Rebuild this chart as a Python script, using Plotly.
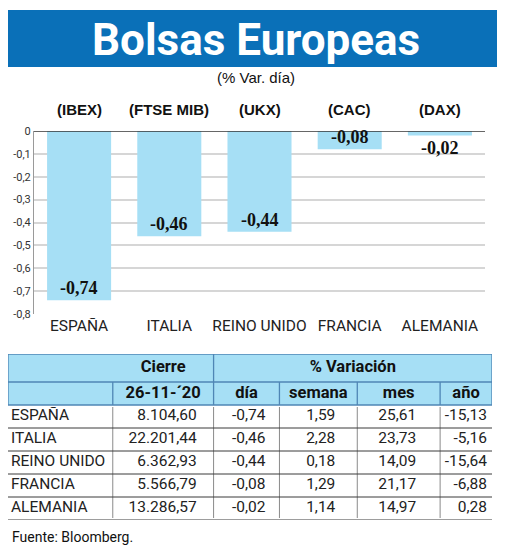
import plotly.graph_objects as go

# Datos
paises = ["ESPAÑA", "ITALIA", "REINO UNIDO", "FRANCIA", "ALEMANIA"]
indices = ["(IBEX)", "(FTSE MIB)", "(UKX)", "(CAC)", "(DAX)"]
cierre = [8104.60, 22201.44, 6362.93, 5566.79, 13286.57]
var_dia = [-0.74, -0.46, -0.44, -0.08, -0.02]
var_semana = [1.59, 2.28, 0.18, 1.29, 1.14]
var_mes = [25.61, 23.73, 14.09, 21.17, 14.97]
var_anio = [-15.13, -5.16, -15.64, -6.88, 0.28]
y_ticks = [0, -0.1, -0.2, -0.3, -0.4, -0.5, -0.6, -0.7, -0.8]
y_tick_labels = ["0", "-0,1", "-0,2", "-0,3", "-0,4", "-0,5", "-0,6", "-0,7", "-0,8"]
fecha_cierre = "26-11-´20"
cab_columnas = ["día", "semana", "mes", "año"]

# la página deja 8px de margen del navegador: la figura ocupa el resto de la ventana
OFF = 8
W, H = 520 - OFF, 549 - OFF
AZUL = "#0A70B8"
CELESTE = "#A6DFF5"
NARROW = "Roboto, Liberation Sans, sans-serif"
SANS = "Liberation Sans, Arial, sans-serif"
SERIF = "Liberation Serif, Times New Roman, serif"


def es(v):
    # formato numérico español: 13.286,57
    s = f"{v:,.2f}"
    return s.replace(",", "#").replace(".", ",").replace("#", ".")


def px_x(p):
    return max(p - OFF, 0) / W


def px_y(p):
    return 1 - max(p - OFF, 0) / H


fig = go.Figure()

# Gráfico de barras
fig.add_trace(go.Bar(
    x=paises, y=var_dia, width=0.71,
    marker=dict(color=CELESTE, line=dict(width=0)),
    hoverinfo="x+y", showlegend=False,
))

for p, v in zip(paises, var_dia):
    fig.add_annotation(
        x=p, y=v, xref="x", yref="y", text=f"{v:.2f}".replace(".", ","),
        showarrow=False, yanchor="top" if abs(v) < 0.05 else "bottom",
        font=dict(family=SERIF, size=18, color="#111", weight="bold"),
    )

for p, idx in zip(paises, indices):
    fig.add_annotation(
        x=p, y=px_y(110), xref="x", yref="paper", text=idx, yanchor="middle",
        showarrow=False, font=dict(family=SANS, size=15, color="#111", weight="bold"),
    )

# Tabla (ejes propios)
col_w = [105, 101, 66, 78, 83, 52]
edges = [0]
for w in col_w:
    edges.append(edges[-1] + w)
row_h = [28, 23, 23, 23, 23, 23, 23]
rows = [0]
for h in row_h:
    rows.append(rows[-1] + h)
mid = [(rows[i] + rows[i + 1]) / 2 for i in range(len(row_h))]
pads = [17, 14, 22, 24, 5]

tabla_ejes = dict(xaxis="x2", yaxis="y2", mode="text", hoverinfo="skip", showlegend=False)

# cabecera
fig.add_trace(go.Scatter(
    x=[(edges[1] + edges[2]) / 2, (edges[2] + edges[6]) / 2],
    y=[mid[0], mid[0]], text=["Cierre", "% Variación"],
    textposition="middle center",
    textfont=dict(family=NARROW, size=16.5, color="#111", weight="bold"),
    **tabla_ejes,
))
fig.add_trace(go.Scatter(
    x=[(edges[i] + edges[i + 1]) / 2 for i in range(1, 6)],
    y=[mid[1]] * 5, text=[fecha_cierre] + cab_columnas,
    textposition="middle center",
    textfont=dict(family=NARROW, size=16.5, color="#111", weight="bold"),
    **tabla_ejes,
))

# cuerpo
fig.add_trace(go.Scatter(
    x=[3] * len(paises), y=mid[2:], text=paises,
    textposition="middle right", textfont=dict(family=NARROW, size=15.5, color="#222"),
    **tabla_ejes,
))
for c, serie in enumerate([cierre, var_dia, var_semana, var_mes, var_anio]):
    fig.add_trace(go.Scatter(
        x=[edges[c + 2] - pads[c]] * len(serie), y=mid[2:],
        text=[es(v) for v in serie],
        textposition="middle left", textfont=dict(family=NARROW, size=15.5, color="#222"),
        **tabla_ejes,
    ))

shapes = []
# barra del título
shapes.append(dict(type="rect", xref="paper", yref="paper", x0=px_x(5), x1=px_x(497),
                   y0=px_y(67), y1=px_y(10), fillcolor=AZUL, line=dict(width=0), layer="below"))
# línea del cero
shapes.append(dict(type="line", xref="paper", yref="y", x0=px_x(34), x1=px_x(485),
                   y0=0, y1=0, line=dict(color="#333", width=1.5)))
# cabecera de la tabla
borde = dict(color="#4F86B5", width=1.3)
shapes.append(dict(type="rect", xref="x2", yref="y2", x0=0, x1=edges[-1], y0=0, y1=rows[2],
                   fillcolor=CELESTE, line=borde, layer="below"))
shapes.append(dict(type="line", xref="x2", yref="y2", x0=0, x1=edges[-1], y0=rows[1], y1=rows[1], line=borde))
shapes.append(dict(type="line", xref="x2", yref="y2", x0=edges[2], x1=edges[2], y0=0, y1=rows[2], line=borde))
for e in [edges[1], edges[3], edges[4], edges[5]]:
    shapes.append(dict(type="line", xref="x2", yref="y2", x0=e, x1=e, y0=rows[1], y1=rows[2], line=borde))
# separadores del cuerpo
for e in edges[1:6]:
    shapes.append(dict(type="line", xref="x2", yref="y2", x0=e, x1=e, y0=rows[2] + 2, y1=rows[-1] - 2,
                       line=dict(color="#8A8A8A", width=1)))
for r in rows[3:]:
    shapes.append(dict(type="line", xref="x2", yref="y2", x0=0, x1=edges[-1], y0=r, y1=r,
                       line=dict(color="#3A3A3A", width=1)))

fig.update_layout(
    width=W, height=H, autosize=False,
    margin=dict(l=0, r=0, t=0, b=0, pad=0),
    paper_bgcolor="white", plot_bgcolor="white",
    shapes=shapes,
    xaxis=dict(
        domain=[px_x(34), px_x(485)], type="category", showgrid=False, zeroline=False,
        showline=False, ticks="", tickangle=0, automargin=False,
        tickfont=dict(family=NARROW, size=15.5, color="#222"), fixedrange=True,
    ),
    yaxis=dict(
        domain=[px_y(314), px_y(131)], range=[-0.8, 0], tickvals=y_ticks, ticktext=y_tick_labels,
        showgrid=True, gridcolor="#D6D6D6", gridwidth=1.5, zeroline=False,
        showline=True, linecolor="#9A9A9A", linewidth=1, ticks="", automargin=False,
        tickfont=dict(family=NARROW, size=11, color="#333"), fixedrange=True,
    ),
    xaxis2=dict(domain=[px_x(7), px_x(492)], range=[0, edges[-1]], visible=False,
                anchor="y2", automargin=False),
    yaxis2=dict(domain=[px_y(520), px_y(354)], range=[rows[-1], 0], visible=False,
                anchor="x2", automargin=False),
    annotations=list(fig.layout.annotations) + [
        dict(text="Bolsas Europeas", xref="paper", yref="paper", x=px_x(256), y=px_y(40),
             xanchor="center", yanchor="middle", showarrow=False,
             font=dict(family=NARROW, size=44, color="white", weight="bold")),
        dict(text="(% Var. día)", xref="paper", yref="paper", x=px_x(256), y=px_y(78),
             xanchor="center", yanchor="middle", showarrow=False,
             font=dict(family=SANS, size=15, color="#111")),
        dict(text="Fuente: Bloomberg.", xref="paper", yref="paper", x=px_x(10), y=px_y(537),
             xanchor="left", yanchor="middle", showarrow=False,
             font=dict(family=NARROW, size=14, color="#111")),
    ],
)

fig.write_html("out.html")
